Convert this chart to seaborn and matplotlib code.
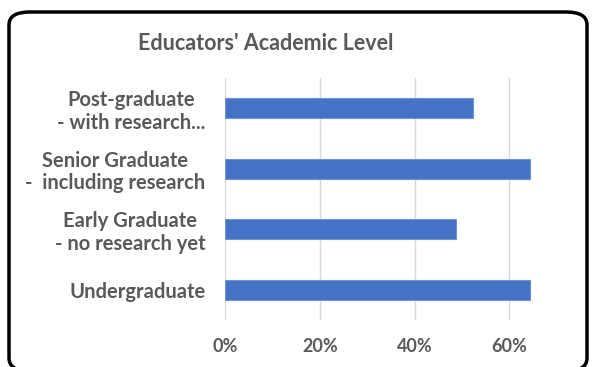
import matplotlib
matplotlib.use("Agg")
import matplotlib.pyplot as plt
import seaborn as sns
import pandas as pd
from matplotlib.patches import FancyBboxPatch
from matplotlib.ticker import PercentFormatter

# data
levels = ["Post-graduate\n- with research...",
          "Senior Graduate\n-  including research",
          "Early Graduate\n- no research yet",
          "Undergraduate"]
shares = [0.524, 0.644, 0.488, 0.644]
xticks = [0.0, 0.2, 0.4, 0.6]

sns.set_style("white")
plt.rcParams['font.family'] = ['Lato', 'DejaVu Sans']

txt = '#595959'
df = pd.DataFrame({'Level': levels, 'Share': shares})

fig = plt.figure(figsize=(5.92, 3.67), dpi=100)
W, H = 592, 367
ax = fig.add_axes([225 / W, 1 - 320 / H, 335 / W, 242 / H])

sns.barplot(data=df, x='Share', y='Level', color='#4472C4', width=0.33,
            edgecolor='#6F93D6', linewidth=0.8, saturation=1, ax=ax)

ax.set_xlim(0, 0.707)
ax.set_xticks(xticks)
ax.xaxis.set_major_formatter(PercentFormatter(1.0, decimals=0))
ax.grid(axis='x', color='#D9D9D9', linewidth=1)
ax.set_axisbelow(True)
for s in ax.spines.values():
    s.set_visible(False)
ax.set_xlabel('')
ax.set_ylabel('')
ax.tick_params(axis='x', length=0, pad=13, labelsize=13, labelcolor=txt)
ax.tick_params(axis='y', length=0, pad=14, labelsize=14.5, labelcolor=txt)
for lab in ax.get_xticklabels():
    lab.set_fontweight('bold')
for lab in ax.get_yticklabels():
    lab.set_fontweight('bold')
    lab.set_multialignment('center')
    lab.set_linespacing(1.15)

fig.text(266 / W, 1 - 44 / H, "Educators' Academic Level", ha='center', va='center',
         fontsize=15.5, fontweight='bold', color=txt)

# rounded chart frame, bottom edge runs just past the image
frame = FancyBboxPatch((9 / W, -4 / H), 578 / W, 1 - 8 / H,
                       boxstyle="round,pad=0,rounding_size=0.035",
                       transform=fig.transFigure, fill=False,
                       edgecolor='black', linewidth=2.5, zorder=10)
fig.patches.append(frame)

fig.savefig('out.png', dpi=100)
